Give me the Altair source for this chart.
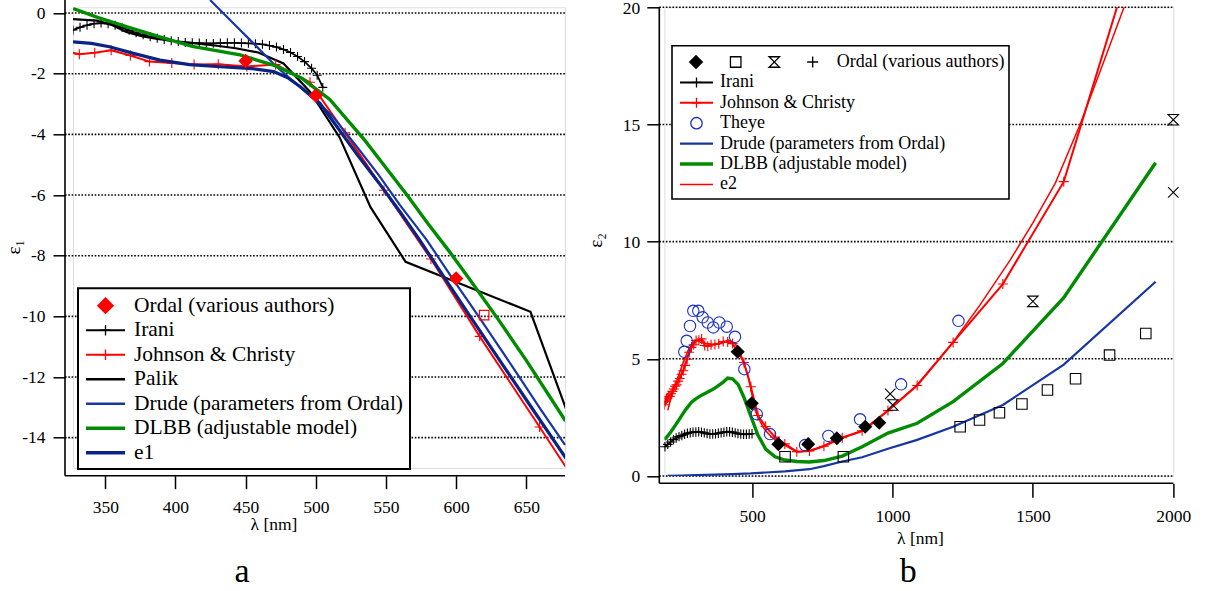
import altair as alt
import pandas as pd

FONT = "Liberation Serif, Times New Roman, serif"

# ---------------- Panel a : epsilon_1 ----------------
ordal_a_wl = [450, 500, 600]
ordal_a_e1 = [-1.58, -2.72, -8.75]
ordal_a_sq_wl = [620]
ordal_a_sq_e1 = [-9.96]

irani_a_wl = [327, 332, 337, 342, 347, 352, 357, 362, 367, 372, 377, 382, 387, 392, 397, 402, 407, 412,
              417, 422, 427, 432, 437, 442, 447, 452, 457, 462, 467, 472, 477, 482, 487, 492, 497, 501, 505]
irani_a_e1 = [-0.56, -0.47, -0.40, -0.35, -0.33, -0.35, -0.40, -0.48, -0.57, -0.65, -0.72, -0.78, -0.83,
              -0.87, -0.91, -0.94, -0.97, -0.98, -0.99, -1.00, -1.00, -0.99, -0.98, -0.98, -0.99, -1.00,
              -1.01, -1.03, -1.07, -1.12, -1.20, -1.30, -1.43, -1.60, -1.82, -2.05, -2.45]

jc_a_wl = [320.4, 331.5, 342.5, 354.2, 367.9, 381.5, 397.4, 413.3, 430.5, 450.9, 471.4, 495.9, 520.9,
           548.6, 582.1, 616.8, 659.5, 704.5]
jc_a_e1 = [-1.23, -1.36, -1.31, -1.23, -1.40, -1.60, -1.65, -1.70, -1.69, -1.76, -1.70, -2.28, -3.95,
           -5.84, -8.11, -10.66, -13.65, -16.82]

palik_wl = [327, 344, 354, 365, 376, 387, 400, 413, 428, 443, 459, 477, 496, 517, 539, 564, 653, 689]
palik_e1 = [-0.20, -0.25, -0.38, -0.62, -0.76, -0.85, -0.93, -0.99, -1.07, -1.16, -1.30, -1.66, -2.60,
            -4.10, -6.40, -8.20, -9.85, -14.40]

drude_a_wl = [424.7, 440, 455.6, 472, 489, 500, 512, 530, 545, 560, 579, 597, 616, 640, 660, 677.6]
drude_a_e1 = [0.43, -0.28, -1.00, -1.77, -2.45, -2.88, -3.40, -4.45, -5.35, -6.33, -7.48, -8.72, -10.00,
              -11.65, -13.05, -14.24]

e1_wl = [327, 340, 353, 370, 389, 410, 432, 455, 470, 480, 489, 503, 512, 530, 545, 560, 574, 592, 610,
         630, 650, 680]
e1_e1 = [-0.95, -1.00, -1.11, -1.33, -1.55, -1.70, -1.77, -1.83, -1.93, -2.13, -2.43, -2.98, -3.55, -4.70,
         -5.60, -6.55, -7.48, -8.75, -10.00, -11.38, -12.75, -14.80]

dlbb_a_wl = [327, 345, 365, 390, 412, 446, 472, 490, 510, 522, 535, 550, 565, 580, 595, 610, 630, 650, 678]
dlbb_a_e1 = [0.15, -0.15, -0.45, -0.80, -1.10, -1.38, -1.75, -2.15, -2.85, -3.50, -4.20, -5.10, -6.00,
             -6.95, -7.85, -8.80, -10.10, -11.45, -13.45]

xticks_a = [350, 400, 450, 500, 550, 600, 650]
yticks_a = [0, -2, -4, -6, -8, -10, -12, -14]

# ---------------- Panel b : epsilon_2 ----------------
jc_b_wl = [187.9, 191.6, 195.3, 199.3, 203.3, 207.3, 211.9, 216.4, 221.4, 226.2, 231.3, 237.1, 242.6,
           249.0, 255.1, 261.6, 268.9, 276.1, 284.4, 292.4, 300.9, 310.7, 320.4, 331.5, 342.5, 354.2,
           367.9, 381.5, 397.4, 413.3, 430.5, 450.9, 471.4, 495.9, 520.9, 548.6, 582.1, 616.8, 659.5,
           704.5, 756.0, 821.1, 892.0, 984.0, 1088, 1216, 1393, 1610, 1937]
jc_b_e2 = [3.04, 3.18, 3.29, 3.33, 3.40, 3.39, 3.51, 3.61, 3.71, 3.83, 3.89, 4.05, 4.16, 4.34, 4.49, 4.72,
           4.98, 5.28, 5.49, 5.60, 5.78, 5.79, 5.85, 5.57, 5.54, 5.60, 5.61, 5.64, 5.74, 5.72, 5.65, 5.28,
           4.84, 3.81, 2.58, 2.11, 1.66, 1.37, 1.04, 1.07, 1.27, 1.63, 1.93, 2.79, 3.86, 5.70, 8.19,
           12.56, 25.40]

e2_wl = [200, 215, 237, 255, 273, 297, 330, 360, 392, 415, 440, 463, 487, 511, 530, 546, 575, 606, 640,
         665, 700, 748, 810, 867, 900, 980, 1087, 1217, 1312, 1419, 1500, 1580, 1668, 1750, 1840]
e2_e2 = [2.8, 3.5, 4.24, 4.85, 5.37, 5.8, 5.66, 5.62, 5.68, 5.8, 5.66, 5.09, 4.24, 2.81, 2.3, 1.96, 1.6,
         1.39, 1.15, 1.04, 1.07, 1.25, 1.6, 1.8, 1.95, 2.74, 3.88, 5.73, 7.3, 9.21, 10.8, 12.5, 15.0,
         17.6, 20.5]

dlbb_b_wl = [187.9, 199.3, 211.9, 226.2, 242.6, 261.6, 284.4, 300.9, 320.4, 342.5, 367.9, 397.4, 413.3,
             430.5, 450.9, 471.4, 495.9, 520.9, 548.6, 582.1, 616.8, 659.5, 704.5, 756.0, 821.1, 892.0,
             984.0, 1088, 1216, 1393, 1610, 1937]
dlbb_b_e2 = [1.55, 1.70, 1.90, 2.15, 2.45, 2.80, 3.15, 3.30, 3.45, 3.58, 3.75, 4.00, 4.18, 4.15, 3.90,
             3.35, 2.55, 1.75, 1.15, 0.82, 0.68, 0.62, 0.60, 0.66, 0.85, 1.25, 1.83, 2.25, 3.17, 4.80,
             7.61, 13.37]

drude_b_wl = [199.3, 249.0, 300.9, 367.9, 430.5, 495.9, 548.6, 616.8, 704.5, 756.0, 821.1, 892.0, 984.0,
              1088, 1216, 1393, 1610, 1937]
drude_b_e2 = [0.01, 0.02, 0.04, 0.06, 0.08, 0.11, 0.15, 0.20, 0.29, 0.42, 0.62, 0.80, 1.16, 1.54, 2.10,
              3.03, 4.75, 8.29]

irani_b_wl = [190, 200, 210, 220, 230, 240, 250, 260, 270, 280, 290, 300, 310, 320, 330, 340, 350, 360,
              370, 380, 390, 400, 410, 420, 430, 440, 450, 460, 470, 480, 490, 500]
irani_b_e2 = [1.25, 1.35, 1.45, 1.55, 1.62, 1.68, 1.73, 1.78, 1.82, 1.85, 1.87, 1.88, 1.89, 1.87, 1.84,
              1.81, 1.79, 1.79, 1.80, 1.82, 1.85, 1.87, 1.89, 1.89, 1.87, 1.84, 1.81, 1.79, 1.78, 1.78,
              1.79, 1.80]

theye_wl = [258.8, 267.4, 279.1, 290.9, 308.7, 324.4, 342.2, 362.1, 383.5, 409.9, 439.4, 472.7, 516.7,
            564.1, 688.8, 771.8, 884.7, 1030.8, 1235]
theye_e2 = [5.30, 5.77, 6.40, 7.05, 7.05, 6.77, 6.55, 6.34, 6.55, 6.37, 5.94, 4.56, 2.64, 1.79, 1.32,
            1.71, 2.42, 3.91, 6.62]

ordal_b_dia_wl = [449, 499, 594, 700, 802, 903, 953]
ordal_b_dia_e2 = [5.30, 3.10, 1.36, 1.36, 1.61, 2.10, 2.27]
ordal_b_sq_wl = [617.6, 825.3, 1241, 1310, 1381, 1461, 1552, 1652, 1773, 1902]
ordal_b_sq_e2 = [0.82, 0.82, 2.10, 2.39, 2.70, 3.07, 3.67, 4.15, 5.16, 6.08]
ordal_b_hg_wl = [1001, 1500, 2000]
ordal_b_hg_e2 = [3.03, 7.45, 15.2]
ordal_b_x_wl = [992, 2000]
ordal_b_x_e2 = [3.5, 12.1]

xticks_b = [500, 1000, 1500, 2000]
yticks_b = [0, 5, 10, 15, 20]

legend_a_labels = ["Ordal (various authors)", "Irani", "Johnson & Christy", "Palik",
                   "Drude (parameters from Ordal)", "DLBB (adjustable model)", "e1"]
legend_b_labels = ["Ordal (various authors)", "Irani", "Johnson & Christy", "Theye",
                   "Drude (parameters from Ordal)", "DLBB (adjustable model)", "e2"]

# ---------------- styles ----------------
RED = "#ff0000"
BLACK = "#000000"
GREEN = "#008c00"
BLUE_D = "#1836a0"
BLUE_E = "#0a2486"
BLUE_T = "#1a2fc4"
PLUS = "M-1,0L1,0M0,-1L0,1"
XMARK = "M-1,-1L1,1M-1,1L1,-1"
HOURGLASS = "M-1,-1L1,-1L-1,1L1,1Z"

W_A, H_A = 492, 460.7
W_B, H_B = 508.9, 468.7

xs_a = alt.Scale(domain=[327, 677.6], nice=False, zero=False)
ys_a = alt.Scale(domain=[-15.0, 0.19], nice=False, zero=False)
xs_b = alt.Scale(domain=[188, 2000], nice=False, zero=False)
ys_b = alt.Scale(domain=[0, 20], nice=False, zero=False)

LAB = dict(labelFont=FONT, labelFontSize=17.5, labelColor="black", titleFont=FONT,
           titleColor="black", titleFontWeight="normal", tickColor="black", tickWidth=1.5,
           domain=False, grid=False, labelFlush=False, labelOverlap=False)

axis_x_a = alt.Axis(values=xticks_a, offset=7.7, tickSize=13, labelPadding=10, format="d",
                    title="λ [nm]", titleFontSize=17.5, titleX=200.5, titleY=49.3,
                    titleBaseline="middle", **LAB)
axis_y_a = alt.Axis(values=yticks_a, offset=8, tickSize=12, labelPadding=8,
                    labelExpr="'' + datum.value", title="ε₁", titleFontSize=19, titleAngle=270,
                    titleX=-51.7, titleY=239.4, titleBaseline="middle", **LAB)
axis_x_b = alt.Axis(values=xticks_b, offset=7.3, tickSize=14, labelPadding=10, format="d",
                    title="λ [nm]", titleFontSize=17.5, titleX=255.6, titleY=55.7,
                    titleBaseline="middle", **LAB)
axis_y_b = alt.Axis(values=yticks_b, offset=5.1, tickSize=12.5, labelPadding=7, format="d",
                    labelOffset=1, title="ε₂", titleFontSize=19, titleAngle=270, titleX=-64.3,
                    titleY=232.7, titleBaseline="middle", **LAB)

ONE = pd.DataFrame({"k": [0]})


def df(x, y):
    return pd.DataFrame({"wl": x, "v": y})


class Panel:
    def __init__(self, xs, ys, ax, ay):
        self.xs, self.ys, self.ax, self.ay = xs, ys, ax, ay

    def enc(self):
        return dict(x=alt.X("wl:Q", scale=self.xs, axis=self.ax),
                    y=alt.Y("v:Q", scale=self.ys, axis=self.ay))

    def line(self, x, y, color, width, clip=True):
        return alt.Chart(df(x, y)).mark_line(color=color, strokeWidth=width, clip=clip).encode(**self.enc())

    def pts(self, x, y, shape, size, color, filled=False, sw=1.2, clip=False):
        return alt.Chart(df(x, y)).mark_point(shape=shape, size=size, color=color, filled=filled,
                                              strokeWidth=sw, opacity=1, clip=clip).encode(**self.enc())

    def grid(self, ticks, x0, x1):
        return alt.Chart(pd.DataFrame({"v": ticks})).mark_rule(
            color="black", strokeWidth=1.6, strokeDash=[1.6, 1.7]).encode(
            y=alt.Y("v:Q", scale=self.ys, axis=self.ay), x=alt.value(x0), x2=alt.value(x1))


def frame(xl, yt, yb, xr):
    v = alt.Chart(ONE).mark_rule(color="black", strokeWidth=1.6).encode(
        x=alt.value(xl), y=alt.value(yt), y2=alt.value(yb))
    h = alt.Chart(ONE).mark_rule(color="black", strokeWidth=1.6).encode(
        x=alt.value(xl), x2=alt.value(xr), y=alt.value(yb))
    return [v, h]


def legend(labels, rows, box, fsize, sx0, sx1, tx, y0, dy, bw):
    layers = [alt.Chart(ONE).mark_rect(fill="white", stroke="black", strokeWidth=bw).encode(
        x=alt.value(box[0]), x2=alt.value(box[1]), y=alt.value(box[2]), y2=alt.value(box[3]))]
    for i, (lab, r) in enumerate(zip(labels, rows)):
        y = y0 + i * dy
        if r.get("line"):
            layers.append(alt.Chart(ONE).mark_rule(color=r["line"][0], strokeWidth=r["line"][1]).encode(
                x=alt.value(sx0), x2=alt.value(sx1), y=alt.value(y)))
        for (mx, shape, size, color, filled) in r.get("marks", []):
            layers.append(alt.Chart(ONE).mark_point(shape=shape, size=size, color=color, filled=filled,
                                                    strokeWidth=1.3, opacity=1).encode(
                x=alt.value(mx), y=alt.value(y)))
        layers.append(alt.Chart(pd.DataFrame({"t": [lab]})).mark_text(
            align="left", baseline="middle", font=FONT, fontSize=fsize, color="black").encode(
            x=alt.value(r.get("tx", tx)), y=alt.value(y), text="t:N"))
    return layers


# ---------------- panel a ----------------
A = Panel(xs_a, ys_a, axis_x_a, axis_y_a)
ca = 32.5
rows_a = [
    {"marks": [(ca, "diamond", 300, RED, True)]},
    {"line": (BLACK, 2), "marks": [(ca, PLUS, 110, BLACK, False)]},
    {"line": (RED, 2), "marks": [(ca, PLUS, 110, RED, False)]},
    {"line": (BLACK, 2.5)},
    {"line": (BLUE_D, 2.4)},
    {"line": (GREEN, 3.6)},
    {"line": (BLUE_E, 3.6)},
]
layers_a = [A.grid(yticks_a, -8, W_A)] + frame(-8, -7.3, H_A + 7.7, W_A) + [
    A.line(palik_wl, palik_e1, BLACK, 2.2),
    A.line(irani_a_wl, irani_a_e1, BLACK, 1.8),
    A.pts(irani_a_wl, irani_a_e1, PLUS, 80, BLACK, sw=1.1, clip=True),
    A.line(jc_a_wl, jc_a_e1, RED, 2),
    A.pts(jc_a_wl, jc_a_e1, PLUS, 100, RED, sw=1.1, clip=True),
    A.line(drude_a_wl, drude_a_e1, BLUE_D, 2.2, clip=False),
    A.line(e1_wl, e1_e1, BLUE_E, 3.2),
    A.line(dlbb_a_wl, dlbb_a_e1, GREEN, 3.4),
    A.pts(ordal_a_wl, ordal_a_e1, "diamond", 210, RED, filled=True),
    A.pts(ordal_a_sq_wl, ordal_a_sq_e1, "square", 90, RED, sw=1.2),
] + legend(legend_a_labels, rows_a, (5, 337, 281, 461.7), 21.5, 13, 52, 61, 298.4, 24.5, 2)

panel_a = alt.layer(*layers_a).properties(
    width=W_A, height=H_A,
    title=alt.TitleParams("a", orient="bottom", frame="group", anchor="middle", dx=-77, offset=49,
                          baseline="alphabetic", font=FONT, fontSize=34, fontWeight="normal",
                          color="black"))

# ---------------- panel b ----------------
B = Panel(xs_b, ys_b, axis_x_b, axis_y_b)
cb = 32.1
rows_b = [
    {"marks": [(31.6, "diamond", 210, BLACK, True), (71.3, "square", 110, BLACK, False),
               (109.9, HOURGLASS, 110, BLACK, False), (148.3, PLUS, 120, BLACK, False)], "tx": 172.3},
    {"line": (BLACK, 2), "marks": [(cb, PLUS, 100, BLACK, False)]},
    {"line": (RED, 2), "marks": [(cb, PLUS, 100, RED, False)]},
    {"marks": [(cb, "circle", 130, BLUE_T, False)]},
    {"line": (BLUE_D, 2.4)},
    {"line": (GREEN, 3.6)},
    {"line": (RED, 1.5)},
]
layers_b = [B.grid(yticks_b, -5.1, W_B)] + frame(-5.1, 0, H_B + 7.3, W_B) + [
    B.line(irani_b_wl, irani_b_e2, BLACK, 1.8),
    B.pts(irani_b_wl, irani_b_e2, PLUS, 90, BLACK, sw=1.1),
    B.line(drude_b_wl, drude_b_e2, BLUE_D, 2.2),
    B.line(dlbb_b_wl, dlbb_b_e2, GREEN, 3.4),
    B.line(jc_b_wl, jc_b_e2, RED, 2),
    B.pts(jc_b_wl, jc_b_e2, PLUS, 100, RED, sw=1.1, clip=True),
    B.line(e2_wl, e2_e2, RED, 1.5),
    B.pts(theye_wl, theye_e2, "circle", 130, BLUE_T, sw=1.1),
    B.pts(ordal_b_dia_wl, ordal_b_dia_e2, "diamond", 200, BLACK, filled=True),
    B.pts(ordal_b_sq_wl, ordal_b_sq_e2, "square", 110, BLACK, sw=1.1),
    B.pts(ordal_b_hg_wl, ordal_b_hg_e2, HOURGLASS, 110, BLACK, sw=1.1),
    B.pts(ordal_b_x_wl, ordal_b_x_e2, XMARK, 110, BLACK, sw=1.1),
] + legend(legend_b_labels, rows_b, (7.6, 344.6, 38.4, 191.7), 18, 15.6, 48.6, 55.6, 54.7, 20.4, 1.6)

panel_b = alt.layer(*layers_b).properties(
    width=W_B, height=H_B,
    title=alt.TitleParams("b", orient="bottom", frame="group", anchor="middle", dx=-10.5, offset=35,
                          baseline="alphabetic", font=FONT, fontSize=34, fontWeight="normal",
                          color="black"))

chart = alt.hconcat(panel_a, panel_b, spacing=99.4, bounds="flush").properties(
    padding={"left": 3, "top": -5.7, "right": 0, "bottom": 0}, background="white"
).configure_view(strokeWidth=0).configure(font=FONT)

chart.save("out.html", embed_options={"renderer": "svg", "actions": False})
